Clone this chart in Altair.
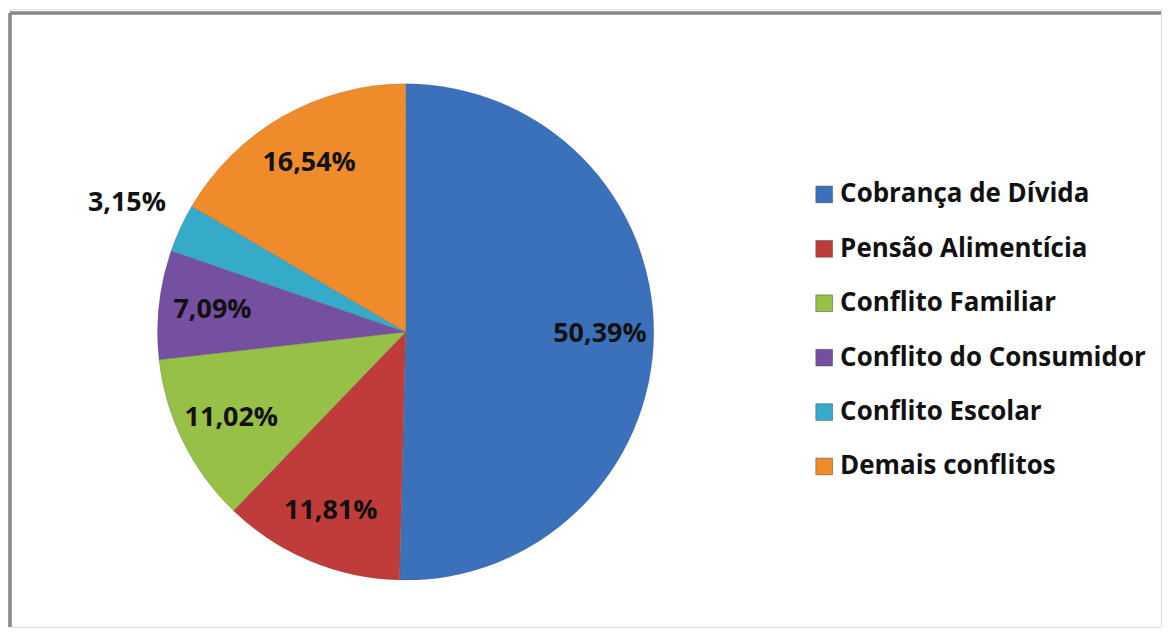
import altair as alt
import pandas as pd

categories = ["Cobrança de Dívida", "Pensão Alimentícia", "Conflito Familiar",
              "Conflito do Consumidor", "Conflito Escolar", "Demais conflitos"]
values = [50.39, 11.81, 11.02, 7.09, 3.15, 16.54]
labels = ["50,39%", "11,81%", "11,02%", "7,09%", "3,15%", "16,54%"]
colors = ["#3b71ba", "#c03c3a", "#97c046", "#7650a0", "#35abc9", "#f08b2c"]

df = pd.DataFrame({"category": categories, "value": values, "label": labels,
                   "order": list(range(len(categories)))})

FONT = "Open Sans"
cx, cy = 397, 324
OUTSIDE = "Conflito Escolar"

color = alt.Color("category:N", scale=alt.Scale(domain=categories, range=colors), legend=None)
theta = alt.Theta("value:Q", stack=True, scale=alt.Scale(type="linear", range=[0, 6.283185307179586]))

base = alt.Chart(df)

pie = base.mark_arc(outerRadius=249, stroke="#555555", strokeWidth=0.4, strokeOpacity=0.6).encode(
    theta=theta, color=color, order=alt.Order("order:Q"),
    x=alt.value(cx), y=alt.value(cy),
)

lbl_style = dict(font=FONT, fontSize=27, fontWeight="bold", color="#111111")

inner_labels = base.transform_calculate(
    txt=f"datum.category == '{OUTSIDE}' ? '' : datum.label"
).mark_text(radius=195, **lbl_style).encode(
    theta=theta, order=alt.Order("order:Q"), text="txt:N",
    x=alt.value(cx), y=alt.value(cy),
)
outer_labels = base.transform_calculate(
    txt=f"datum.category == '{OUTSIDE}' ? datum.label : ''"
).mark_text(radius=308, **lbl_style).encode(
    theta=theta, order=alt.Order("order:Q"), text="txt:N",
    x=alt.value(cx), y=alt.value(cy),
)

ypos = alt.Y("category:N", sort=categories, axis=None,
             scale=alt.Scale(domain=categories, range=[186, 459], padding=0))

leg_sym = base.mark_square(size=280, opacity=1, stroke="#444444", strokeWidth=0.5).encode(
    y=ypos, x=alt.value(817), color=color,
)
leg_txt = base.mark_text(font=FONT, fontSize=26, fontWeight="bold", align="left",
                         baseline="middle", color="#111111").encode(
    y=ypos, x=alt.value(833), text="category:N",
)

frame_left = base.mark_rule(color="#8a8a8a", strokeWidth=2.5).encode(
    x=alt.value(0), y=alt.value(4), y2=alt.value(620))
frame_top = base.mark_rule(color="#8a8a8a", strokeWidth=2.5).encode(
    x=alt.value(0), x2=alt.value(1155), y=alt.value(4))

chart = alt.layer(frame_left, frame_top, pie, inner_labels, outer_labels, leg_sym, leg_txt).properties(
    width=1155, height=620, padding=0
).configure_view(strokeWidth=0, stroke="transparent").configure(background="white")

chart.save("out.html", embed_options={"renderer": "svg", "actions": False})
